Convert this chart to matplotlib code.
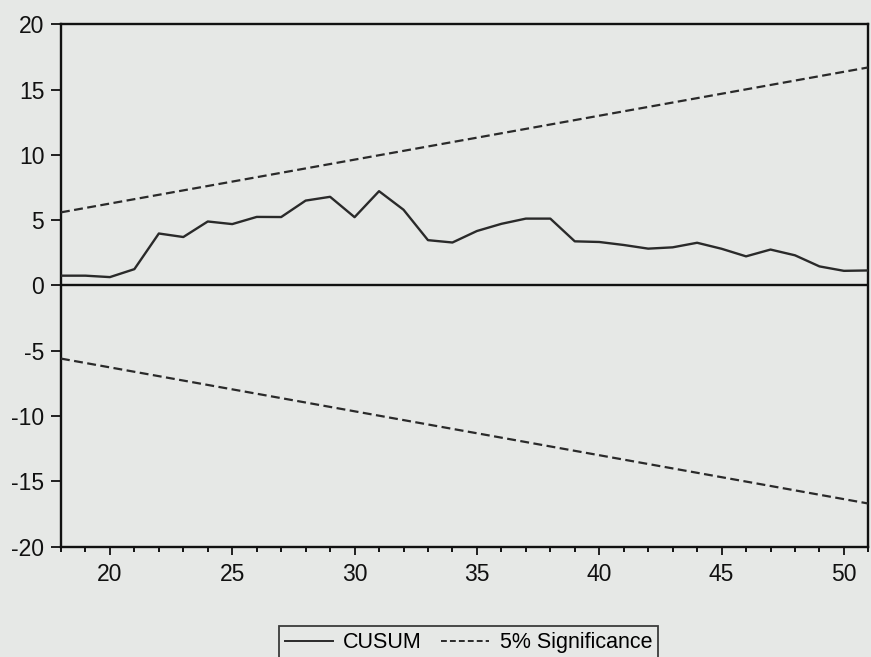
import matplotlib
matplotlib.use("Agg")
import matplotlib.pyplot as plt
from matplotlib.ticker import MultipleLocator
from matplotlib.lines import Line2D

plt.rcParams['font.family'] = ['Liberation Sans', 'DejaVu Sans']

# Data
years = list(range(18, 52))
cusum = [0.75, 0.75, 0.64, 1.25, 3.98, 3.71, 4.90, 4.70, 5.25, 5.24, 6.50,
         6.79, 5.23, 7.22, 5.80, 3.47, 3.29, 4.17, 4.72, 5.12, 5.12, 3.38,
         3.33, 3.10, 2.82, 2.92, 3.27, 2.81, 2.23, 2.75, 2.31, 1.46, 1.12, 1.15]
bound_years = [18, 51]
upper_bound = [5.6, 16.7]
lower_bound = [-5.6, -16.7]
x_ticks = [20, 25, 30, 35, 40, 45, 50]
y_ticks = [-20, -15, -10, -5, 0, 5, 10, 15, 20]

bg = '#e6e8e6'
ink = '#2a2a2a'

fig = plt.figure(figsize=(8.71, 6.57), dpi=100, facecolor=bg)
ax = fig.add_axes([0.070, 0.168, 0.927, 0.795], facecolor=bg)

ax.axhline(0, color='#111111', lw=1.7, zorder=2)
ax.plot(years, cusum, color=ink, lw=1.7, zorder=3)
ax.plot(bound_years, upper_bound, color=ink, lw=1.6, dashes=(4, 2), zorder=3)
ax.plot(bound_years, lower_bound, color=ink, lw=1.6, dashes=(4, 2), zorder=3)

ax.set_xlim(18, 51)
ax.set_ylim(-20, 20)
ax.set_xticks(x_ticks)
ax.set_yticks(y_ticks)
ax.xaxis.set_minor_locator(MultipleLocator(1))
ax.set_yticklabels([str(v) for v in y_ticks])

for s in ax.spines.values():
    s.set_color('#111111')
    s.set_linewidth(1.7)

ax.tick_params(axis='y', direction='out', length=7, width=1.3, pad=5,
               labelsize=16.5, colors='#111111')
ax.tick_params(axis='x', which='major', direction='out', length=6, width=1.3,
               pad=6, labelsize=16.5, colors='#111111')
ax.tick_params(axis='x', which='minor', direction='out', length=3.5, width=1.3)
ax.tick_params(top=False, right=False, which='both')

handles = [Line2D([], [], color=ink, lw=1.4),
           Line2D([], [], color=ink, lw=1.4, dashes=(3, 1.6))]
leg = fig.legend(handles, ['CUSUM', '5% Significance'], loc='upper center',
                 bbox_to_anchor=(0.538, 0.064), ncol=2, frameon=True,
                 fontsize=15.5, handlelength=2.2, handletextpad=0.5,
                 columnspacing=0.9, fancybox=False, borderpad=0.3)
leg.get_frame().set_edgecolor('#111111')
leg.get_frame().set_facecolor(bg)
leg.get_frame().set_linewidth(1.3)

fig.savefig('out.png', dpi=100, facecolor=bg)
